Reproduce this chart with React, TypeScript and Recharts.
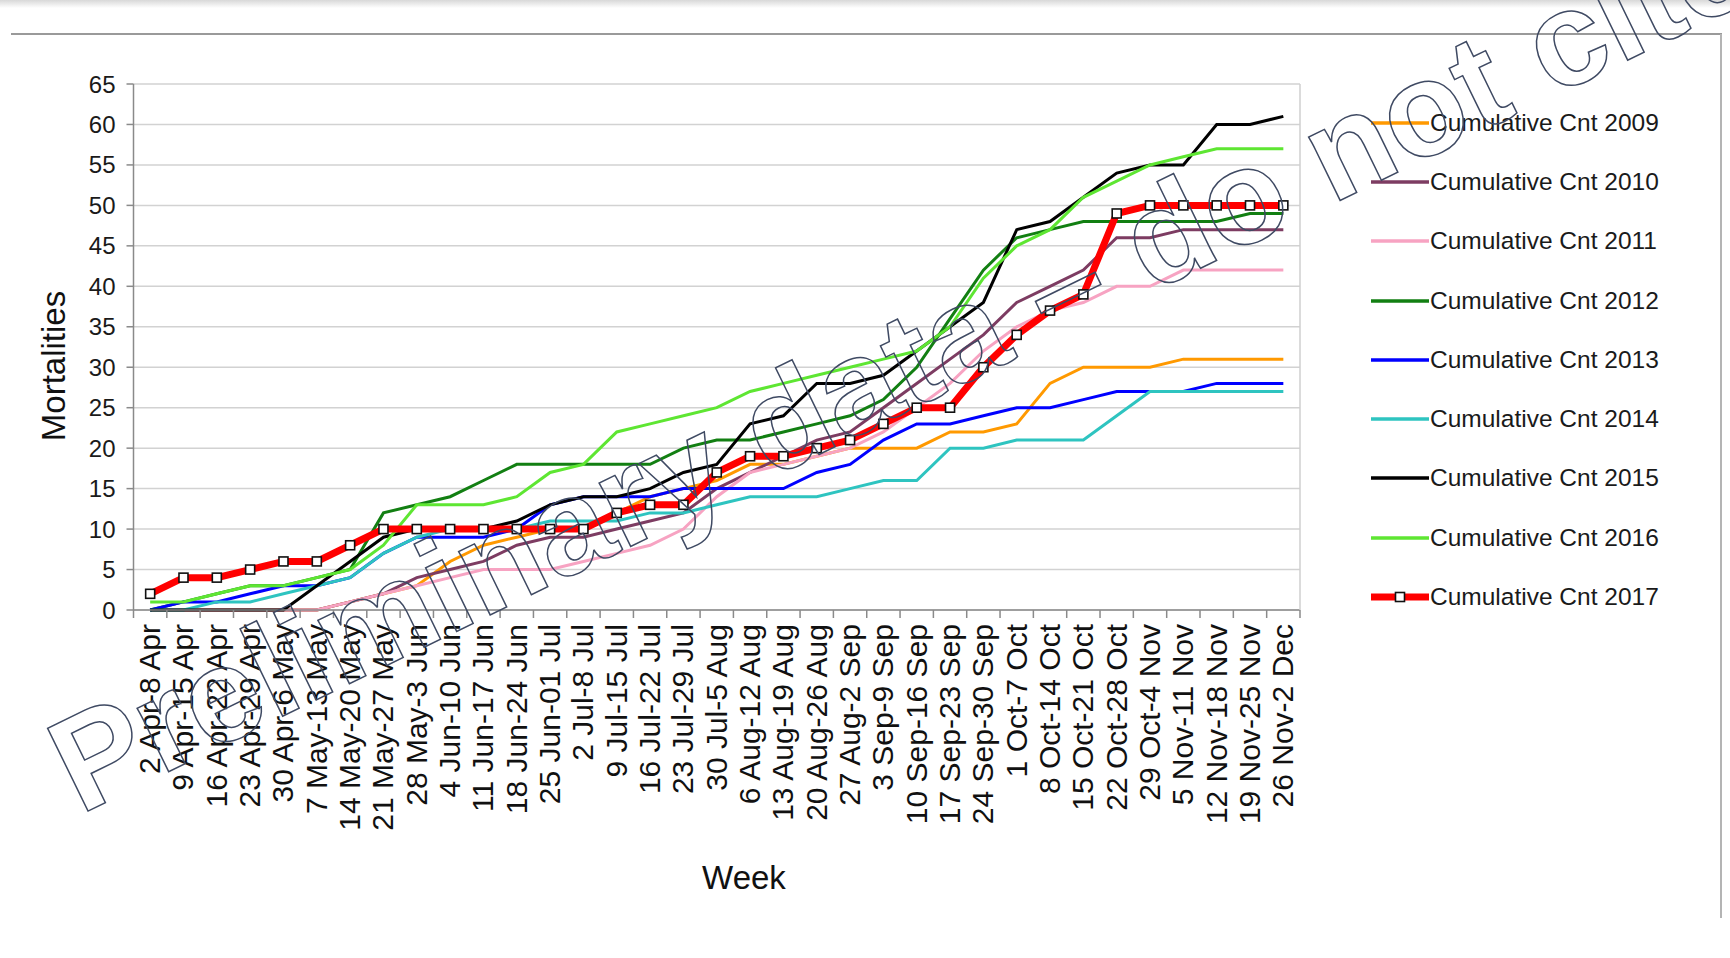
import { LineChart, Line, XAxis, YAxis, CartesianGrid, Legend } from "recharts";

const weeks = [
  "2 Apr-8 Apr", "9 Apr-15 Apr", "16 Apr-22 Apr", "23 Apr-29 Apr", "30 Apr-6 May",
  "7 May-13 May", "14 May-20 May", "21 May-27 May", "28 May-3 Jun", "4 Jun-10 Jun",
  "11 Jun-17 Jun", "18 Jun-24 Jun", "25 Jun-01 Jul", "2 Jul-8 Jul", "9 Jul-15 Jul",
  "16 Jul-22 Jul", "23 Jul-29 Jul", "30 Jul-5 Aug", "6 Aug-12 Aug", "13 Aug-19 Aug",
  "20 Aug-26 Aug", "27 Aug-2 Sep", "3 Sep-9 Sep", "10 Sep-16 Sep", "17 Sep-23 Sep",
  "24 Sep-30 Sep", "1 Oct-7 Oct", "8 Oct-14 Oct", "15 Oct-21 Oct", "22 Oct-28 Oct",
  "29 Oct-4 Nov", "5 Nov-11 Nov", "12 Nov-18 Nov", "19 Nov-25 Nov", "26 Nov-2 Dec",
];

const cnt2009 = [0, 0, 0, 0, 0, 0, 1, 2, 3, 6, 8, 9, 10, 10, 12, 14, 15, 16, 18, 18, 19, 20, 20, 20, 22, 22, 23, 28, 30, 30, 30, 31, 31, 31, 31];
const cnt2010 = [0, 0, 0, 0, 0, 0, 1, 2, 4, 5, 6, 8, 9, 9, 10, 11, 12, 15, 17, 19, 21, 22, 25, 28, 31, 34, 38, 40, 42, 46, 46, 47, 47, 47, 47];
const cnt2011 = [0, 0, 0, 0, 0, 0, 1, 2, 3, 4, 5, 5, 5, 6, 7, 8, 10, 14, 17, 18, 19, 20, 22, 25, 28, 32, 35, 37, 38, 40, 40, 42, 42, 42, 42];
const cnt2012 = [0, 1, 2, 3, 3, 4, 5, 12, 13, 14, 16, 18, 18, 18, 18, 18, 20, 21, 21, 22, 23, 24, 26, 30, 36, 42, 46, 47, 48, 48, 48, 48, 48, 49, 49];
const cnt2013 = [0, 1, 1, 2, 3, 3, 4, 7, 9, 9, 9, 10, 13, 14, 14, 14, 15, 15, 15, 15, 17, 18, 21, 23, 23, 24, 25, 25, 26, 27, 27, 27, 28, 28, 28];
const cnt2014 = [0, 0, 1, 1, 2, 3, 4, 7, 9, 10, 10, 10, 11, 11, 11, 12, 12, 13, 14, 14, 14, 15, 16, 16, 20, 20, 21, 21, 21, 24, 27, 27, 27, 27, 27];
const cnt2015 = [0, 0, 0, 0, 0, 3, 6, 9, 10, 10, 10, 11, 13, 14, 14, 15, 17, 18, 23, 24, 28, 28, 29, 32, 35, 38, 47, 48, 51, 54, 55, 55, 60, 60, 61];
const cnt2016 = [1, 1, 2, 3, 3, 4, 5, 8, 13, 13, 13, 14, 17, 18, 22, 23, 24, 25, 27, 28, 29, 30, 31, 32, 35, 41, 45, 47, 51, 53, 55, 56, 57, 57, 57];
const cnt2017 = [2, 4, 4, 5, 6, 6, 8, 10, 10, 10, 10, 10, 10, 10, 12, 13, 13, 17, 19, 19, 20, 21, 23, 25, 25, 30, 34, 37, 39, 49, 50, 50, 50, 50, 50];

const yTicks = [0, 5, 10, 15, 20, 25, 30, 35, 40, 45, 50, 55, 60, 65];

const series = [
  { key: "c2009", name: "Cumulative Cnt 2009", color: "#ff9900", values: cnt2009 },
  { key: "c2010", name: "Cumulative Cnt 2010", color: "#7d3c62", values: cnt2010 },
  { key: "c2011", name: "Cumulative Cnt 2011", color: "#f7a3c2", values: cnt2011 },
  { key: "c2012", name: "Cumulative Cnt 2012", color: "#127f12", values: cnt2012 },
  { key: "c2013", name: "Cumulative Cnt 2013", color: "#0000ff", values: cnt2013 },
  { key: "c2014", name: "Cumulative Cnt 2014", color: "#2ec4c0", values: cnt2014 },
  { key: "c2015", name: "Cumulative Cnt 2015", color: "#000000", values: cnt2015 },
  { key: "c2016", name: "Cumulative Cnt 2016", color: "#5ee632", values: cnt2016 },
  { key: "c2017", name: "Cumulative Cnt 2017", color: "#ff0000", values: cnt2017 },
];

const data = weeks.map((week, i) => {
  const row: Record<string, string | number> = { week };
  series.forEach((s) => (row[s.key] = s.values[i]));
  return row;
});

const W = 1730;
const H = 958;
const FONT = "'Liberation Sans', Arial, sans-serif";
const PLOT_LEFT = 133.5;
const PLOT_RIGHT = 1300;
const HALF = (PLOT_RIGHT - PLOT_LEFT) / weeks.length / 2;
const AXIS = "#8a8a8a";

function WeekTick(props: any) {
  const { x, y, payload, index } = props;
  const tx = x + 10;
  const ty = y + 14;
  return (
    <g>
      <line x1={x - HALF} x2={x - HALF} y1={y} y2={y + 8} stroke={AXIS} strokeWidth={1.5} />
      {index === weeks.length - 1 && (
        <line x1={x + HALF} x2={x + HALF} y1={y} y2={y + 8} stroke={AXIS} strokeWidth={1.5} />
      )}
      <text
        x={tx}
        y={ty}
        transform={`rotate(-90, ${tx}, ${ty})`}
        textAnchor="end"
        fontSize={30}
        fontFamily={FONT}
        fill="#111"
      >
        {payload.value}
      </text>
    </g>
  );
}

function SquareDot(props: any) {
  const { cx, cy, index } = props;
  if (cx == null || cy == null) return <g key={index} />;
  return (
    <rect key={index} x={cx - 4.5} y={cy - 4.5} width={9} height={9} fill="#fff" stroke="#111" strokeWidth={1.6} />
  );
}

function LegendRows({ payload }: any) {
  return (
    <div style={{ fontFamily: FONT, fontSize: 24.5, color: "#1a1a1a" }}>
      {(payload || []).map((e: any) => {
        const last = e.value === "Cumulative Cnt 2017";
        return (
          <div key={e.value} style={{ height: 59.3, display: "flex", alignItems: "center", whiteSpace: "nowrap" }}>
            <svg width={58} height={14} style={{ flex: "none" }}>
              <line x1={0} x2={58} y1={7} y2={7} stroke={e.color} strokeWidth={last ? 7 : 3.5} />
              {last && <rect x={24.5} y={2.5} width={9} height={9} fill="#fff" stroke="#111" strokeWidth={1.6} />}
            </svg>
            <span style={{ marginLeft: 1 }}>{e.value}</span>
          </div>
        );
      })}
    </div>
  );
}

export default function App() {
  return (
    <div style={{ position: "absolute", left: 0, top: 0, width: W, height: H, background: "#fff" }}>
      <LineChart
        width={W}
        height={H}
        data={data}
        margin={{ top: 84, right: 429, bottom: 148, left: 73.5 }}
      >
        <CartesianGrid vertical={false} stroke="#d2d2d2" strokeWidth={1.5} />
        <XAxis
          dataKey="week"
          interval={0}
          height={200}
          padding={{ left: HALF, right: HALF }}
          tickSize={0}
          tickMargin={0}
          axisLine={{ stroke: AXIS, strokeWidth: 1.5 }}
          tickLine={false}
          tick={(p: any) => <WeekTick {...p} />}
        />
        <YAxis
          domain={[0, 65]}
          ticks={yTicks}
          interval={0}
          width={60}
          tickSize={7}
          tickMargin={11}
          axisLine={{ stroke: AXIS, strokeWidth: 1.5 }}
          tickLine={{ stroke: AXIS, strokeWidth: 1.5 }}
          tick={{ fontSize: 24, fill: "#1a1a1a", fontFamily: FONT }}
        />
        <YAxis
          yAxisId="frame"
          orientation="right"
          domain={[0, 65]}
          width={1}
          tick={false}
          tickLine={false}
          axisLine={{ stroke: "#cfcfcf", strokeWidth: 1.5 }}
        />
        <Legend
          layout="vertical"
          align="center"
          verticalAlign="middle"
          wrapperStyle={{ left: 1371, top: 93, width: 340, height: 540 }}
          content={(p: any) => <LegendRows {...p} />}
        />
        {series.map((s) => {
          const last = s.key === "c2017";
          return (
            <Line
              key={s.key}
              type="linear"
              dataKey={s.key}
              name={s.name}
              stroke={s.color}
              strokeWidth={last ? 7 : 3}
              dot={last ? (p: any) => <SquareDot {...p} /> : false}
              activeDot={false}
              isAnimationActive={false}
            />
          );
        })}
      </LineChart>
      <svg
        width={W}
        height={H}
        style={{ position: "absolute", left: 0, top: 0, pointerEvents: "none" }}
      >
        <defs>
          <linearGradient id="topfade" x1="0" y1="0" x2="0" y2="1">
            <stop offset="0" stopColor="#d8d8d8" />
            <stop offset="1" stopColor="#ffffff" />
          </linearGradient>
        </defs>
        <rect x={0} y={0} width={W} height={8} fill="url(#topfade)" />
        <line x1={11} x2={1722} y1={34} y2={34} stroke="#9a9a9a" strokeWidth={2} />
        <line x1={1721} x2={1721} y1={34} y2={918} stroke="#b4b4b4" strokeWidth={2} />
        <text
          x={53}
          y={366}
          transform="rotate(-90, 53, 366)"
          textAnchor="middle"
          dominantBaseline="central"
          fontSize={33}
          fontFamily={FONT}
          fill="#111"
        >
          Mortalities
        </text>
        <text x={744} y={877} textAnchor="middle" dominantBaseline="central" fontSize={33} fontFamily={FONT} fill="#111">
          Week
        </text>
        <text
          x={80}
          y={815}
          transform="rotate(-26, 80, 815)"
          fontSize={134}
          fontWeight="bold"
          fontFamily={FONT}
          fill="none"
          stroke="#3f4a63"
          strokeWidth={1.5}
        >
          Preliminary data – do not cite
        </text>
      </svg>
    </div>
  );
}
